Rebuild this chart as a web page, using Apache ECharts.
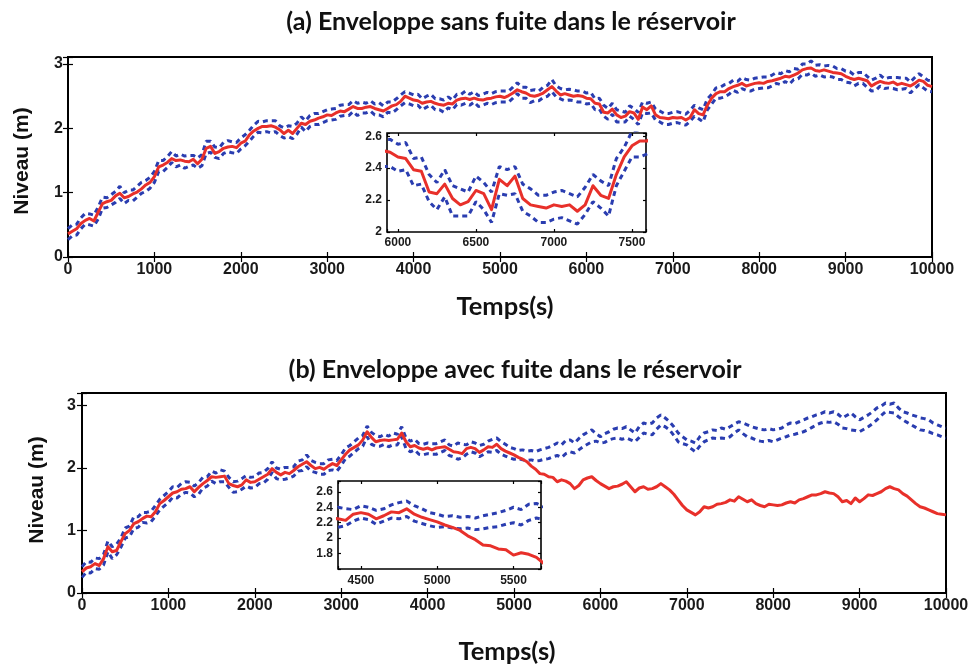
<!DOCTYPE html>
<html>
<head>
<meta charset="utf-8">
<script src="https://cdn.jsdelivr.net/npm/echarts@6/dist/echarts.min.js"></script>
<style>
  html, body { margin: 0; padding: 0; background: #fff; }
  #chart { width: 973px; height: 666px; }
</style>
</head>
<body>
<div id="chart"></div>
<script>
// Sampling period of the level signals (s)
const SAMPLE_STEP_S = 50;

// (a) tank without leak: estimated level and envelope bounds (m)
const levelEstA = [
  0.36,0.40,0.44,0.52,0.57,0.60,0.56,0.70,0.83,0.86,
  0.88,0.95,0.99,0.92,0.94,0.98,1.01,1.06,1.12,1.16,
  1.25,1.40,1.43,1.47,1.53,1.50,1.51,1.49,1.48,1.52,
  1.45,1.52,1.69,1.72,1.61,1.64,1.69,1.71,1.72,1.70,
  1.77,1.80,1.90,1.96,2.00,2.03,2.03,2.04,2.02,1.98,
  1.92,1.97,1.92,2.00,2.08,2.06,2.11,2.13,2.16,2.18,
  2.21,2.20,2.24,2.27,2.26,2.30,2.34,2.31,2.31,2.33,
  2.34,2.31,2.29,2.27,2.31,2.35,2.37,2.42,2.50,2.47,
  2.44,2.43,2.39,2.41,2.42,2.39,2.37,2.36,2.39,2.38,
  2.44,2.46,2.47,2.45,2.47,2.45,2.44,2.46,2.47,2.49,
  2.50,2.48,2.51,2.55,2.60,2.57,2.55,2.51,2.50,2.52,
  2.55,2.60,2.65,2.58,2.52,2.54,2.52,2.50,2.51,2.50,
  2.47,2.46,2.39,2.38,2.25,2.24,2.30,2.21,2.17,2.19,
  2.26,2.24,2.14,2.33,2.29,2.35,2.21,2.17,2.16,2.15,
  2.17,2.16,2.17,2.13,2.17,2.29,2.23,2.21,2.36,2.47,
  2.54,2.57,2.57,2.62,2.65,2.67,2.70,2.66,2.68,2.70,
  2.71,2.70,2.73,2.74,2.76,2.78,2.81,2.80,2.83,2.86,
  2.91,2.93,2.94,2.90,2.89,2.91,2.89,2.87,2.86,2.85,
  2.81,2.78,2.76,2.78,2.76,2.74,2.66,2.70,2.73,2.71,
  2.70,2.72,2.68,2.70,2.68,2.66,2.70,2.75,2.73,2.67,2.65
];
const upperA = [
  0.44,0.50,0.51,0.61,0.68,0.67,0.65,0.78,0.93,0.92,
  0.97,1.02,1.10,1.00,1.04,1.04,1.10,1.16,1.19,1.24,
  1.33,1.50,1.50,1.56,1.64,1.57,1.60,1.57,1.58,1.58,
  1.54,1.59,1.80,1.80,1.71,1.70,1.78,1.81,1.79,1.78,
  1.85,1.90,1.97,2.05,2.11,2.10,2.12,2.12,2.12,2.04,
  2.01,2.04,2.03,2.08,2.18,2.12,2.20,2.23,2.23,2.26,
  2.29,2.30,2.31,2.36,2.37,2.37,2.43,2.39,2.41,2.39,
  2.43,2.38,2.40,2.35,2.41,2.41,2.46,2.52,2.57,2.55,
  2.52,2.53,2.46,2.50,2.53,2.46,2.46,2.44,2.49,2.44,
  2.53,2.53,2.58,2.53,2.57,2.51,2.53,2.56,2.54,2.57,
  2.58,2.58,2.58,2.64,2.71,2.64,2.64,2.59,2.60,2.58,
  2.64,2.67,2.76,2.66,2.62,2.60,2.61,2.60,2.58,2.58,
  2.55,2.56,2.46,2.47,2.36,2.31,2.39,2.29,2.27,2.25,
  2.35,2.31,2.25,2.41,2.39,2.41,2.30,2.27,2.23,2.23,
  2.25,2.26,2.24,2.22,2.28,2.36,2.32,2.29,2.46,2.53,
  2.63,2.64,2.68,2.70,2.75,2.73,2.79,2.76,2.75,2.78,
  2.79,2.80,2.80,2.83,2.87,2.85,2.90,2.88,2.93,2.92,
  3.00,3.00,3.05,2.98,2.99,2.97,2.98,2.97,2.93,2.93,
  2.89,2.88,2.83,2.87,2.87,2.81,2.75,2.78,2.83,2.77,
  2.79,2.79,2.79,2.78,2.78,2.72,2.79,2.85,2.80,2.75,2.74
];
const lowerA = [
  0.27,0.33,0.34,0.44,0.51,0.50,0.48,0.59,0.76,0.77,
  0.81,0.85,0.91,0.83,0.88,0.87,0.93,0.99,1.02,1.07,
  1.16,1.33,1.33,1.39,1.47,1.40,1.43,1.38,1.41,1.43,
  1.38,1.42,1.61,1.63,1.55,1.53,1.61,1.64,1.62,1.61,
  1.68,1.73,1.80,1.88,1.94,1.93,1.95,1.93,1.95,1.89,
  1.85,1.87,1.84,1.91,2.02,1.95,2.03,2.06,2.06,2.09,
  2.12,2.13,2.14,2.19,2.20,2.20,2.26,2.20,2.24,2.24,
  2.27,2.21,2.21,2.18,2.25,2.24,2.29,2.35,2.40,2.38,
  2.35,2.36,2.29,2.33,2.36,2.29,2.29,2.25,2.32,2.29,
  2.37,2.36,2.39,2.36,2.41,2.34,2.36,2.39,2.37,2.40,
  2.41,2.41,2.41,2.47,2.54,2.47,2.47,2.40,2.43,2.43,
  2.48,2.50,2.57,2.49,2.46,2.43,2.44,2.43,2.41,2.41,
  2.38,2.39,2.29,2.30,2.19,2.14,2.22,2.10,2.10,2.10,
  2.19,2.14,2.06,2.24,2.23,2.24,2.13,2.10,2.06,2.06,
  2.08,2.09,2.07,2.05,2.11,2.19,2.15,2.10,2.29,2.38,
  2.47,2.47,2.49,2.53,2.59,2.56,2.62,2.59,2.58,2.61,
  2.62,2.63,2.63,2.66,2.70,2.68,2.73,2.69,2.76,2.77,
  2.84,2.83,2.86,2.81,2.83,2.80,2.81,2.80,2.76,2.76,
  2.72,2.71,2.66,2.70,2.70,2.64,2.58,2.59,2.66,2.62,
  2.63,2.62,2.60,2.61,2.62,2.55,2.62,2.68,2.63,2.58,2.57
];

// (b) tank with leak: estimated level and envelope bounds (m)
const levelEstB = [
  0.34,0.40,0.42,0.47,0.44,0.55,0.74,0.66,0.68,0.82,
  0.95,1.00,1.11,1.14,1.19,1.23,1.22,1.30,1.43,1.48,
  1.54,1.60,1.62,1.66,1.67,1.70,1.62,1.69,1.75,1.80,
  1.86,1.85,1.86,1.87,1.75,1.72,1.70,1.73,1.81,1.77,
  1.78,1.82,1.86,1.90,1.99,1.93,1.89,1.93,1.91,1.96,
  2.02,2.06,2.10,2.04,1.99,2.01,1.98,2.03,2.07,2.04,
  2.13,2.22,2.29,2.33,2.37,2.45,2.58,2.49,2.42,2.44,
  2.45,2.44,2.45,2.46,2.56,2.42,2.34,2.36,2.32,2.30,
  2.32,2.29,2.32,2.33,2.34,2.30,2.26,2.25,2.23,2.31,
  2.33,2.31,2.25,2.29,2.34,2.33,2.38,2.31,2.27,2.24,
  2.21,2.17,2.14,2.10,2.03,1.98,1.91,1.90,1.86,1.85,
  1.78,1.81,1.79,1.75,1.67,1.72,1.81,1.84,1.86,1.80,
  1.75,1.71,1.67,1.70,1.71,1.74,1.78,1.70,1.62,1.68,
  1.70,1.66,1.67,1.70,1.75,1.70,1.65,1.58,1.49,1.40,
  1.33,1.29,1.25,1.30,1.38,1.36,1.38,1.42,1.43,1.45,
  1.49,1.47,1.54,1.50,1.46,1.49,1.43,1.40,1.38,1.42,
  1.41,1.40,1.41,1.44,1.46,1.44,1.49,1.51,1.54,1.57,
  1.57,1.59,1.62,1.60,1.59,1.54,1.46,1.48,1.43,1.52,
  1.46,1.51,1.57,1.56,1.59,1.62,1.67,1.70,1.67,1.65,
  1.59,1.55,1.49,1.43,1.38,1.36,1.33,1.30,1.27,1.26,1.25
];
const upperB = [
  0.42,0.50,0.49,0.56,0.55,0.62,0.83,0.74,0.78,0.88,
  1.04,1.07,1.22,1.22,1.29,1.29,1.31,1.40,1.50,1.56,
  1.62,1.70,1.69,1.75,1.78,1.77,1.71,1.77,1.85,1.86,
  1.95,1.92,1.97,1.95,1.85,1.78,1.79,1.83,1.88,1.85,
  1.86,1.92,1.93,1.99,2.10,2.00,1.98,2.01,2.01,2.02,
  2.11,2.13,2.21,2.12,2.09,2.07,2.07,2.13,2.14,2.12,
  2.21,2.32,2.36,2.42,2.48,2.52,2.67,2.57,2.52,2.50,
  2.54,2.51,2.56,2.54,2.66,2.48,2.43,2.46,2.39,2.38,
  2.40,2.39,2.39,2.42,2.45,2.37,2.35,2.40,2.38,2.37,
  2.42,2.40,2.36,2.38,2.43,2.46,2.48,2.42,2.38,2.33,
  2.31,2.28,2.29,2.27,2.28,2.26,2.29,2.31,2.33,2.36,
  2.40,2.37,2.44,2.45,2.40,2.47,2.53,2.57,2.61,2.55,
  2.50,2.55,2.58,2.62,2.64,2.63,2.66,2.61,2.56,2.66,
  2.72,2.70,2.72,2.80,2.85,2.80,2.74,2.66,2.56,2.50,
  2.45,2.43,2.40,2.50,2.56,2.58,2.61,2.60,2.64,2.62,
  2.66,2.70,2.74,2.72,2.69,2.66,2.64,2.62,2.61,2.63,
  2.61,2.62,2.64,2.69,2.72,2.71,2.74,2.77,2.80,2.82,
  2.85,2.87,2.90,2.88,2.90,2.86,2.80,2.84,2.88,2.82,
  2.77,2.81,2.85,2.90,2.96,2.99,3.04,3.02,3.04,2.96,
  2.90,2.88,2.85,2.83,2.80,2.79,2.77,2.72,2.69,2.66,2.64
];
const lowerB = [
  0.25,0.33,0.32,0.39,0.38,0.45,0.66,0.55,0.61,0.73,
  0.88,0.90,1.03,1.05,1.13,1.12,1.14,1.23,1.33,1.39,
  1.45,1.53,1.52,1.58,1.61,1.60,1.54,1.58,1.68,1.71,
  1.79,1.75,1.78,1.78,1.69,1.61,1.62,1.66,1.71,1.68,
  1.69,1.75,1.76,1.82,1.93,1.83,1.81,1.82,1.84,1.87,
  1.95,1.96,2.02,1.95,1.93,1.90,1.90,1.96,1.97,1.95,
  2.04,2.15,2.19,2.25,2.31,2.35,2.50,2.38,2.35,2.35,
  2.38,2.34,2.37,2.37,2.50,2.31,2.26,2.29,2.22,2.21,
  2.23,2.22,2.22,2.25,2.28,2.20,2.18,2.14,2.16,2.22,
  2.26,2.24,2.18,2.22,2.26,2.25,2.28,2.22,2.19,2.16,
  2.14,2.15,2.13,2.12,2.13,2.11,2.12,2.14,2.15,2.18,
  2.20,2.17,2.23,2.26,2.24,2.29,2.34,2.38,2.42,2.43,
  2.40,2.41,2.45,2.47,2.48,2.46,2.48,2.45,2.42,2.49,
  2.56,2.54,2.53,2.62,2.69,2.66,2.61,2.52,2.42,2.39,
  2.37,2.31,2.26,2.35,2.42,2.45,2.48,2.47,2.48,2.47,
  2.50,2.56,2.61,2.55,2.50,2.48,2.45,2.43,2.42,2.44,
  2.42,2.45,2.48,2.50,2.53,2.54,2.56,2.58,2.61,2.65,
  2.69,2.72,2.74,2.73,2.74,2.70,2.64,2.63,2.61,2.60,
  2.58,2.62,2.66,2.71,2.77,2.84,2.90,2.89,2.88,2.82,
  2.77,2.73,2.69,2.65,2.61,2.60,2.58,2.55,2.53,2.50,2.48
];

const titleA = '(a) Enveloppe sans fuite dans le réservoir';
const titleB = '(b) Enveloppe avec fuite dans le réservoir';
const xLabel = 'Temps(s)';
const yLabel = 'Niveau (m)';

const FONT = '"Liberation Sans", Arial, sans-serif';
const HEAD_FONT = 'Lato, "Liberation Sans", sans-serif';
const RED = '#e8302a';
const BLUE = '#2a3db0';

const toPairs = vals => vals.map((v, i) => [i * SAMPLE_STEP_S, v]);

const chart = echarts.init(document.getElementById('chart'), null, { renderer: 'canvas' });

function tickStyle(len) {
  return { show: true, inside: true, length: len, lineStyle: { color: '#000', width: 1.2 } };
}

function labelStyle(size, margin, fmt) {
  return { show: true, fontFamily: FONT, fontSize: size, fontWeight: 'bold', color: '#1a1a1a', margin: margin, formatter: fmt };
}

const fmtInt = v => (Math.abs(v - Math.round(v)) < 1e-6 ? String(Math.round(v)) : '');
const fmtStep = step => v => {
  const k = v / step;
  return Math.abs(k - Math.round(k)) < 1e-6 ? String(Math.round(v * 10) / 10) : '';
};

// Each panel: a main plot plus a zoomed inset (bottom/left labelled axes, mirrored ticks top/right)
const grids = [
  { left: 68, top: 57, width: 864, height: 200 },
  { left: 387, top: 133, width: 259, height: 99 },
  { left: 82, top: 393, width: 864, height: 200 },
  { left: 338, top: 481, width: 203, height: 88 }
].map((g, i) => Object.assign({
  show: true, borderColor: '#000', borderWidth: (i % 2 === 0) ? 2 : 1.6,
  backgroundColor: '#fff', containLabel: false
}, g));

const xSpecs = [
  { min: 0, max: 10000, interval: 1000, fmt: fmtInt, size: 16, margin: 5, tick: 5 },
  { min: 5930, max: 7590, splitNumber: 3, fmt: fmtStep(500), size: 12, margin: 5, tick: 3 },
  { min: 0, max: 10000, interval: 1000, fmt: fmtInt, size: 16, margin: 5, tick: 5 },
  { min: 4350, max: 5680, splitNumber: 3, fmt: fmtStep(500), size: 12, margin: 6, tick: 3 }
];
const ySpecs = [
  { min: 0, max: 3.11, interval: 1, fmt: fmtInt, size: 16, margin: 5, tick: 5 },
  { min: 2, max: 2.62, interval: 0.2, fmt: fmtStep(0.2), size: 12, margin: 5, tick: 3 },
  { min: 0, max: 3.2, interval: 1, fmt: fmtInt, size: 16, margin: 6, tick: 5 },
  { min: 1.6, max: 2.74, interval: 0.2, fmt: v => (v < 1.7 ? '' : fmtStep(0.2)(v)), size: 12, margin: 5, tick: 3 }
];

const xAxis = [];
const yAxis = [];
xSpecs.forEach((s, i) => {
  const base = { type: 'value', gridIndex: i, min: s.min, max: s.max, splitLine: { show: false },
    axisLine: { show: false }, axisTick: tickStyle(s.tick) };
  if (s.interval) base.interval = s.interval; else base.splitNumber = s.splitNumber;
  xAxis.push(Object.assign({}, base, { position: 'bottom', axisLabel: labelStyle(s.size, s.margin, s.fmt) }));
  xAxis.push(Object.assign({}, base, { position: 'top', axisLabel: { show: false } }));
});
ySpecs.forEach((s, i) => {
  const base = { type: 'value', gridIndex: i, min: s.min, max: s.max, interval: s.interval,
    splitLine: { show: false }, axisLine: { show: false }, axisTick: tickStyle(s.tick) };
  yAxis.push(Object.assign({}, base, { position: 'left', axisLabel: labelStyle(s.size, s.margin, s.fmt) }));
  yAxis.push(Object.assign({}, base, { position: 'right', axisLabel: { show: false } }));
});

function envelopeSeries(vals, gridIdx, name) {
  return {
    name: name, type: 'line', xAxisIndex: gridIdx * 2, yAxisIndex: gridIdx * 2,
    data: toPairs(vals), showSymbol: false, symbol: 'none', silent: true, clip: true,
    lineStyle: { color: BLUE, width: 3, type: [5, 4], cap: 'butt' }, z: 2
  };
}
function estimateSeries(vals, gridIdx, name) {
  return {
    name: name, type: 'line', xAxisIndex: gridIdx * 2, yAxisIndex: gridIdx * 2,
    data: toPairs(vals), showSymbol: false, symbol: 'none', silent: true, clip: true,
    lineStyle: { color: RED, width: 3, join: 'round' }, z: 3
  };
}

const series = [];
[[levelEstA, upperA, lowerA, [0, 1]], [levelEstB, upperB, lowerB, [2, 3]]].forEach(([est, up, lo, gs]) => {
  gs.forEach(g => {
    series.push(envelopeSeries(up, g, 'upper'));
    series.push(envelopeSeries(lo, g, 'lower'));
    series.push(estimateSeries(est, g, 'estimate'));
  });
});

const textStyle = (size, family) => ({ fontFamily: family, fontSize: size, fontWeight: 'bold', fill: '#111' });

chart.setOption({
  animation: false,
  backgroundColor: '#fff',
  grid: grids,
  xAxis: xAxis,
  yAxis: yAxis,
  series: series,
  graphic: [
    { type: 'text', x: 511, y: 22, style: Object.assign({ text: titleA, align: 'center', verticalAlign: 'middle' }, textStyle(25, HEAD_FONT)) },
    { type: 'text', x: 515, y: 370, style: Object.assign({ text: titleB, align: 'center', verticalAlign: 'middle' }, textStyle(25, HEAD_FONT)) },
    { type: 'text', x: 505, y: 307, style: Object.assign({ text: xLabel, align: 'center', verticalAlign: 'middle' }, textStyle(25.5, HEAD_FONT)) },
    { type: 'text', x: 507, y: 652, style: Object.assign({ text: xLabel, align: 'center', verticalAlign: 'middle' }, textStyle(25.5, HEAD_FONT)) },
    { type: 'text', x: 22, y: 161, rotation: Math.PI / 2, style: Object.assign({ text: yLabel, align: 'center', verticalAlign: 'middle' }, textStyle(21, FONT)) },
    { type: 'text', x: 37, y: 490, rotation: Math.PI / 2, style: Object.assign({ text: yLabel, align: 'center', verticalAlign: 'middle' }, textStyle(21, FONT)) }
  ]
});
</script>
</body>
</html>
